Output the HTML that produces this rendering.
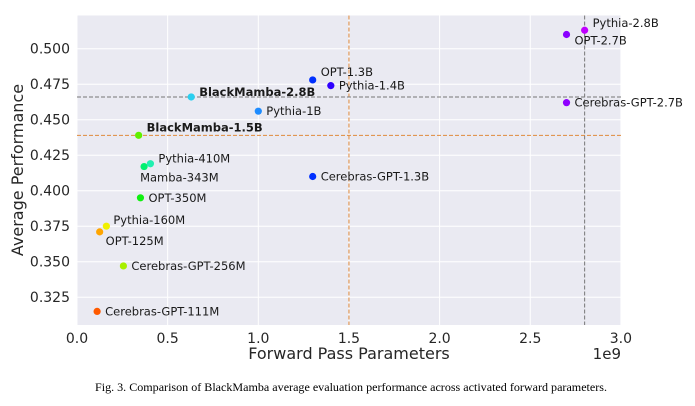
<!DOCTYPE html>
<html><head><meta charset="utf-8"><style>
body{margin:0;background:#fff;width:695px;height:401px;overflow:hidden}
svg{font-family:"DejaVu Sans","Liberation Sans",sans-serif}
</style></head><body>
<svg id="chart" width="695" height="401" viewBox="0 0 695 401">
<rect x="77" y="15.5" width="544" height="309.5" fill="#eaeaf2"/>
<g id="grid"></g><g id="refs"></g><g id="pts"></g><g id="ticks"></g>
<text x="349" y="359" font-size="16" text-anchor="middle" fill="#262626">Forward Pass Parameters</text>
<text x="621" y="359" font-size="15" text-anchor="end" fill="#262626">1e9</text>
<text transform="translate(23,170) rotate(-90)" font-size="16" text-anchor="middle" fill="#262626">Average Performance</text>
<text x="351" y="391" font-size="11.3" text-anchor="middle" font-family="Liberation Serif,serif" fill="#000" textLength="512" lengthAdjust="spacingAndGlyphs">Fig. 3.  Comparison of BlackMamba average evaluation performance across activated forward parameters.</text>
</svg>
<script>
const names=["Cerebras-GPT-111M","OPT-125M","Pythia-160M","Cerebras-GPT-256M","BlackMamba-1.5B","OPT-350M","Mamba-343M","Pythia-410M","BlackMamba-2.8B","Pythia-1B","OPT-1.3B","Pythia-1.4B","Cerebras-GPT-1.3B","OPT-2.7B","Pythia-2.8B","Cerebras-GPT-2.7B"];
const params=[0.111,0.125,0.162,0.256,0.34,0.35,0.37,0.405,0.63,1.0,1.3,1.4,1.3,2.7,2.8,2.7];
const perf=[0.315,0.371,0.375,0.347,0.439,0.395,0.417,0.419,0.466,0.456,0.478,0.474,0.410,0.510,0.513,0.462];
const colors=["#ff5a00","#ffa500","#f0f000","#a8f000","#60f000","#10f010","#00f070","#20f0b0","#2acff0","#1e8cff","#0030ff","#3000ff","#0030ff","#8a00ff","#c000ff","#9000ff"];
const xTicks=[0,0.5,1,1.5,2,2.5,3];
const yTicks=[0.325,0.35,0.375,0.4,0.425,0.45,0.475,0.5];
const X=v=>77+v*181.3, Y=v=>48.7+(0.5-v)*1420;
const NS="http://www.w3.org/2000/svg";
function mk(tag,attrs,parent,txt){const e=document.createElementNS(NS,tag);for(const k in attrs)e.setAttribute(k,attrs[k]);if(txt!==undefined)e.textContent=txt;document.getElementById(parent).appendChild(e);return e;}
xTicks.forEach(t=>{
 const l=mk('line',{x1:X(t),x2:X(t),y1:15.5,y2:325,stroke:'#fff','stroke-width':1},'grid');
 
 
 const s=mk('text',{x:X(t),y:343,'font-size':14,'text-anchor':'middle',fill:'#262626'},'ticks',t.toFixed(1));
 
 
});
yTicks.forEach(t=>{
 const l=mk('line',{x1:77,x2:621,y1:Y(t),y2:Y(t),stroke:'#fff','stroke-width':1},'grid');
 
 
 const s=mk('text',{x:70,y:Y(t)+5,'font-size':14,'text-anchor':'end',fill:'#262626'},'ticks',t.toFixed(3));
 
 
});
const refX=[1.5,2.8], refXc=["#e08a3c","#777"];
const refY=[0.466,0.439], refYc=["#777","#e08a3c"];
refX.forEach((v,i)=>{const l=mk('line',{x1:X(v),x2:X(v),y1:15.5,y2:325,stroke:refXc[i],'stroke-width':1,'stroke-dasharray':'4,2'},'refs');
 
 });
refY.forEach((v,i)=>{const l=mk('line',{x1:77,x2:621,y1:Y(v),y2:Y(v),stroke:refYc[i],'stroke-width':1,'stroke-dasharray':'4,2'},'refs');
 
 });
const off={"OPT-125M":[6,13],"Mamba-343M":[-4,15],"OPT-2.7B":[8,10],"Pythia-2.8B":[8,-3],"OPT-1.3B":[8,-4],"BlackMamba-2.8B":[8,-1],"BlackMamba-1.5B":[8,-4],"Pythia-410M":[8,-1],"Pythia-160M":[7,-2]};
names.forEach((n,i)=>{
 const c=mk('circle',{cx:X(params[i]),cy:Y(perf[i]),r:3.6,fill:colors[i]},'pts');
 
 
 const o=off[n]||[8,4];
 const t=mk('text',{x:X(params[i])+o[0],y:Y(perf[i])+o[1],'font-size':11.5,fill:'#1a1a1a','font-weight':n.startsWith('BlackMamba')?'bold':'normal'},'pts',n);
 
 
});
</script>
</body></html>
